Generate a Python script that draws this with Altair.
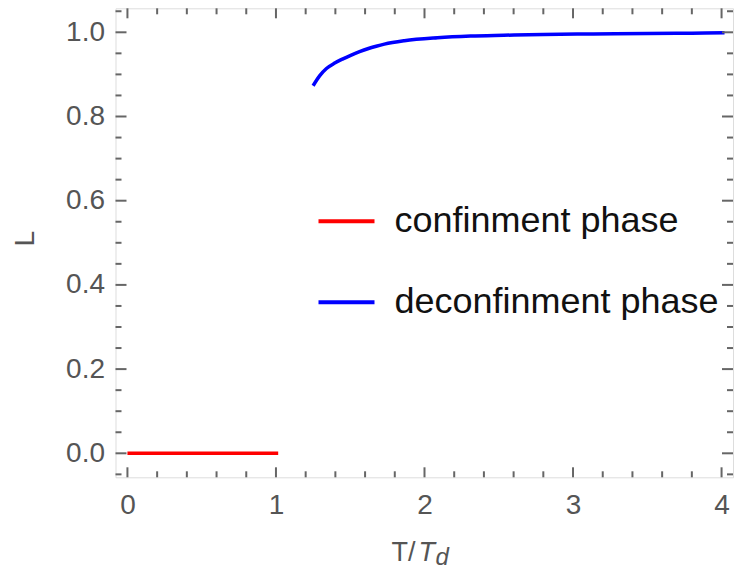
import altair as alt
import pandas as pd

# ---- data ----
red_x = [0.0, 1.015]
red_y = [0.0, 0.0]
blue_x = [1.25, 1.295, 1.34, 1.396, 1.451, 1.507, 1.563, 1.618, 1.675, 1.73, 1.864, 2.087, 2.31, 2.533, 2.8, 3.136, 3.5, 3.8, 4.02]
blue_y = [0.873, 0.897, 0.914, 0.927, 0.937, 0.946, 0.954, 0.961, 0.967, 0.972, 0.980, 0.987, 0.991, 0.993, 0.995, 0.996, 0.997, 0.998, 0.999]
series_names = ["confinment phase", "deconfinment phase"]
series_colors = ["#ff0000", "#0000ff"]

x_major = [0, 1, 2, 3, 4]
y_major = [0.0, 0.2, 0.4, 0.6, 0.8, 1.0]
x_minor = [round(i * 0.2, 2) for i in range(0, 21) if i % 5 != 0]
y_minor = [round(-0.05 + i * 0.05, 2) for i in range(0, 23)]
y_minor = [v for v in y_minor if v not in y_major]

X_DOMAIN = [-0.0803, 4.077]
Y_DOMAIN = [-0.057, 1.057]
W, H = 617.5, 469
FRAME = "#666666"
FONT = "Liberation Sans"

df = pd.DataFrame(
    {"series": [series_names[0]] * len(red_x) + [series_names[1]] * len(blue_x),
     "x": red_x + blue_x,
     "y": red_y + blue_y,
     "order": list(range(len(red_x))) + list(range(len(blue_x)))}
)

xscale = alt.Scale(domain=X_DOMAIN, nice=False, zero=False)
yscale = alt.Scale(domain=Y_DOMAIN, nice=False, zero=False)

lines = alt.Chart(df).mark_line(strokeWidth=3.5, clip=True, interpolate="monotone").encode(
    x=alt.X("x:Q", scale=xscale,
            axis=alt.Axis(values=x_major, format="d", ticks=False, domain=False, grid=False,
                          labelFontSize=28, labelFont=FONT, labelColor="#555555",
                          labelPadding=14, title=None)),
    y=alt.Y("y:Q", scale=yscale,
            axis=alt.Axis(values=y_major, format=".1f", ticks=False, domain=False, grid=False,
                          labelFontSize=28, labelFont=FONT, labelColor="#555555",
                          labelPadding=11, title="L", titleFontSize=28, titleFont=FONT,
                          titleFontWeight="normal", titleColor="#555555",
                          titleX=-90, titleY=230, titleAngle=270,
                          titleAlign="center", titleBaseline="middle")),
    color=alt.Color("series:N",
                    scale=alt.Scale(domain=series_names, range=series_colors),
                    legend=alt.Legend(orient="none", legendX=201, legendY=183, title=None,
                                      symbolType="stroke", symbolSize=3136, symbolStrokeWidth=4,
                                      labelFontSize=36, labelFont=FONT, labelColor="#111111",
                                      labelOffset=18, rowPadding=33, padding=0, labelLimit=600)),
    order="order:Q",
)


def tick_layer(vals, axis, length, side):
    d = pd.DataFrame({"v": vals})
    base = alt.Chart(d).mark_rule(color=FRAME, strokeWidth=2)
    if axis == "x":
        if side == "bottom":
            return base.encode(x=alt.X("v:Q", scale=xscale), y=alt.value(H), y2=alt.value(H - length))
        return base.encode(x=alt.X("v:Q", scale=xscale), y=alt.value(0), y2=alt.value(length))
    if side == "left":
        return base.encode(y=alt.Y("v:Q", scale=yscale), x=alt.value(0), x2=alt.value(length))
    return base.encode(y=alt.Y("v:Q", scale=yscale), x=alt.value(W), x2=alt.value(W - length))


ticks = [
    tick_layer(x_major, "x", 10, "bottom"),
    tick_layer(x_major, "x", 10, "top"),
    tick_layer(x_minor, "x", 6, "bottom"),
    tick_layer(x_minor, "x", 6, "top"),
    tick_layer(y_major, "y", 11, "left"),
    tick_layer(y_major, "y", 11, "right"),
    tick_layer(y_minor, "y", 6, "left"),
    tick_layer(y_minor, "y", 6, "right"),
]

title_df = pd.DataFrame({"a": [0]})
t1 = alt.Chart(title_df).mark_text(text="T/", font=FONT, fontSize=27, color="#555555",
                                   align="left", baseline="alphabetic").encode(
    x=alt.value(276), y=alt.value(553))
t2 = alt.Chart(title_df).mark_text(text="T", font=FONT, fontSize=27, fontStyle="italic",
                                   color="#555555", align="left", baseline="alphabetic").encode(
    x=alt.value(303), y=alt.value(553))
t3 = alt.Chart(title_df).mark_text(text="d", font=FONT, fontSize=24, fontStyle="italic",
                                   color="#555555", align="left", baseline="alphabetic").encode(
    x=alt.value(320), y=alt.value(557))

chart = alt.layer(lines, *ticks, t1, t2, t3).properties(
    width=W, height=H,
    autosize=alt.AutoSizeParams(type="none"),
    padding={"left": 107.5, "top": 0.3, "right": 1, "bottom": 93.5},
).configure_view(stroke=FRAME, strokeWidth=2.2).configure(background="white")

chart.save("out.html", embed_options={"renderer": "svg", "actions": False})
